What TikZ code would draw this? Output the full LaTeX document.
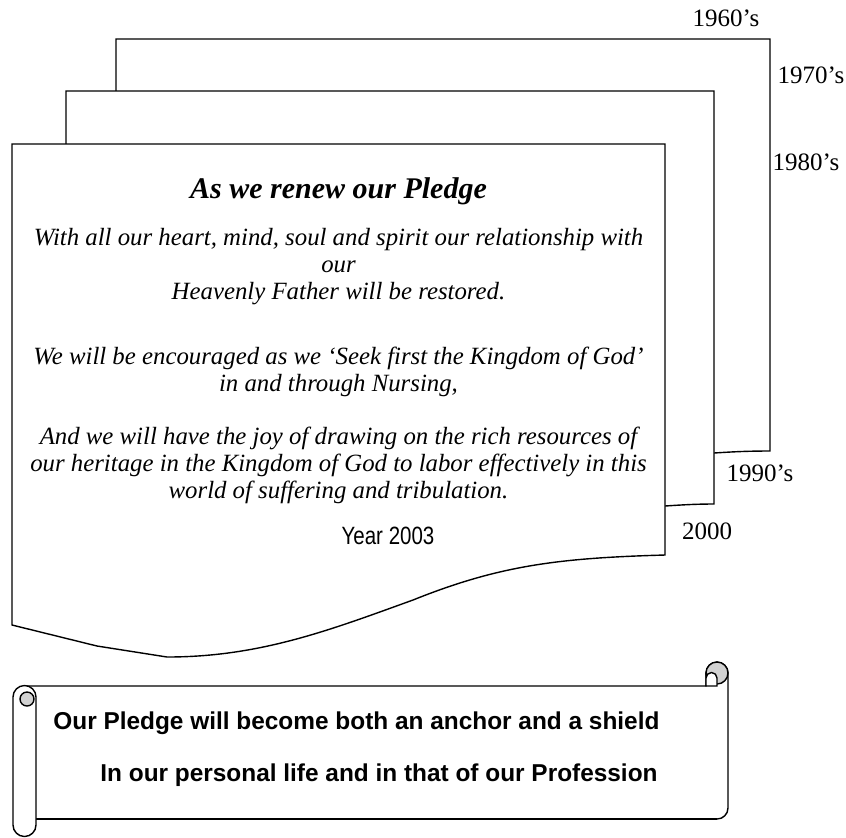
\documentclass[tikz,border=0pt]{standalone}
\usepackage{fontspec}
\setmainfont{Liberation Serif}
\setsansfont{Liberation Sans}
\newfontfamily\narrowsans[FakeStretch=0.82]{Liberation Sans}
\usepackage{tikz}
\usetikzlibrary{positioning,calc}

\tikzset{
  sheet/.style={draw, line width=0.7pt, fill=white, line join=miter},
  scrollline/.style={draw, line width=0.7pt, fill=white},
  curl/.style={draw, line width=0.7pt, fill=gray!35},
  decade/.style={font=\fontsize{12.5}{14}\selectfont, inner sep=0pt},
  verse/.style={font=\fontsize{12.4}{13.5}\selectfont\itshape, align=center, inner sep=0pt},
  banner/.style={font=\sffamily\bfseries\fontsize{12.2}{14}\selectfont, anchor=west, inner sep=0pt}
}

\begin{document}
\begin{tikzpicture}[x=0.5pt, y=-0.5pt]
    \useasboundingbox (0,0) rectangle (846,837);

    % Stacked sheets, back to front
    \draw[sheet] (116,39) -- (770,39) -- (770,451) .. controls (745,451) and (730,452) .. (714,453) -- (116,470) -- cycle;
    \draw[sheet] (66,91) -- (714,91) -- (714,504) .. controls (695,504) and (680,505) .. (665,506) -- (66,520) -- cycle;
    \draw[sheet] (12,144) -- (665,144) -- (665,555)
        .. controls (560,558) and (500,565) .. (413,600)
        .. controls (330,630) and (260,657) .. (167,657)
        -- (97,646) -- (12,625) -- cycle;

    % Decade labels
    \node[decade] (d60) at (726,18) {1960’s};
    \node[decade] (d70) at (811,75) {1970’s};
    \node[decade] (d80) at (806,162) {1980’s};
    \node[decade] (d90) at (760,473) {1990’s};
    \node[decade] (d00) at (707,531) {2000};

    % Pledge text
    \node[verse, font=\fontsize{15}{17}\selectfont\bfseries\itshape] (title) at (338.5,191) {As we renew our Pledge};
    \node[verse] (heart) at (338.5,267) {With all our heart, mind, soul and spirit our relationship with\\our\\Heavenly Father will be restored.};
    \node[verse] (seek) at (338.5,371.5) {We will be encouraged as we ‘Seek first the Kingdom of God’\\in and through Nursing,};
    \node[verse] (joy) at (338.5,465) {And we will have the joy of drawing on the rich resources of\\our heritage in the Kingdom of God to labor effectively in this\\world of suffering and tribulation.};
    \node[inner sep=0pt, font=\narrowsans\fontsize{12.5}{14}\selectfont] (year) at (388,536) {Year 2003};

    % Scroll banner
    \draw[scrollline] (24.5,686) -- (706,686) -- (706,673) arc[start angle=180, end angle=360, radius=11]
        -- (728,808) arc[start angle=0, end angle=90, radius=11] -- (24.5,819) -- cycle;
    \draw[curl] (717,673) circle[radius=11];
    \draw[scrollline] (706,673) -- (706,686) -- (717,686) -- (717,678) arc[start angle=0, end angle=-180, radius=5.5] -- cycle;
    \draw[line width=0.7pt] (36,819) -- (717,819);
    \draw[scrollline] (36,697) arc[start angle=0, end angle=-180, radius=11.5] -- (13,825)
        arc[start angle=180, end angle=0, radius=11.5] -- cycle;
    \draw[curl] (27,699) circle[radius=7];

    \node[banner] (anchor) at (53,723) {Our Pledge will become both an anchor and a shield};
    \node[banner] (life) at (100,775) {In our personal life and in that of our Profession};
\end{tikzpicture}
\end{document}
